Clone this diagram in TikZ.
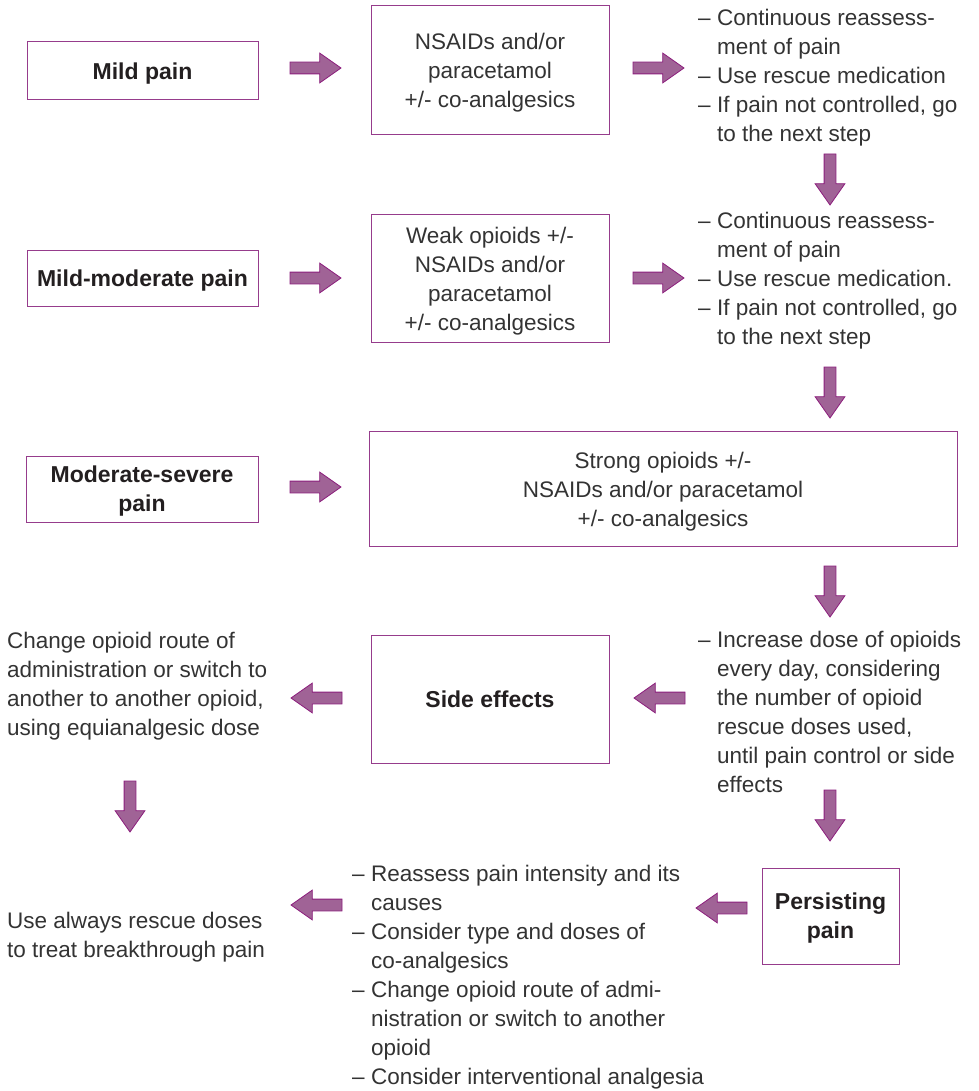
\documentclass[tikz,border=0pt]{standalone}
\usepackage{fontspec}
\setmainfont{Liberation Sans}
\usepackage{tikz}
\usetikzlibrary{shapes.arrows}
\definecolor{arrowfill}{RGB}{160,99,150}
\definecolor{arrowline}{RGB}{140,30,125}
\definecolor{boxline}{RGB}{150,60,140}
\definecolor{textgray}{RGB}{51,51,51}
\definecolor{boldgray}{RGB}{35,31,32}
\newcommand{\dashitem}{\makebox[19pt][l]{–}}
\newcommand{\indentline}{\hspace*{19pt}}

\begin{document}
\begin{tikzpicture}[x=1pt, y=-1pt,
    every node/.style={font=\fontsize{22.5}{29}\selectfont, text=textgray, inner sep=0pt},
    box/.style={draw=boxline, line width=1pt, align=center, text depth=0pt},
    boldbox/.style={box, text=boldgray, font=\fontsize{23}{29}\selectfont\bfseries},
    note/.style={align=left, anchor=north west},
    fatarrow/.style={single arrow, draw=arrowline, fill=arrowfill, line width=0.8pt,
      inner xsep=0pt, inner ysep=5.5pt, minimum height=51pt, minimum width=29pt,
      single arrow head extend=9pt, single arrow tip angle=70, outer sep=0pt, anchor=tail}]
    \useasboundingbox (0,0) rectangle (978,1091);
    % Pain levels (left column)
    \node[boldbox, minimum width=231pt, minimum height=58pt] (mild) at (142.5,71) {Mild pain};
    \node[boldbox, minimum width=231pt, minimum height=56pt] (mildmod) at (142.5,278) {Mild-moderate pain};
    \node[boldbox, minimum width=232pt, minimum height=66pt] (modsev) at (142,489) {Moderate-severe\\pain};
    % Treatment steps
    \node[box, minimum width=238pt, minimum height=129pt] (step1) at (490,70.5)
      {NSAIDs and/or\\paracetamol\\+/- co-analgesics};
    \node[box, minimum width=238pt, minimum height=127pt] (step2) at (490,278.5)
      {Weak opioids +/-\\NSAIDs and/or\\paracetamol\\+/- co-analgesics};
    \node[box, minimum width=588pt, minimum height=115pt] (step3) at (663,489)
      {Strong opioids +/-\\NSAIDs and/or paracetamol\\+/- co-analgesics};
    \node[boldbox, minimum width=238pt, minimum height=128pt] (side) at (490,699) {Side effects};
    \node[boldbox, minimum width=137pt, minimum height=96pt] (persist) at (830.5,916) {Persisting\\pain};
    % Notes
    \node[note] (note1) at (698,8.5) {\dashitem Continuous reassess-\\\indentline ment of pain\\
      \dashitem Use rescue medication\\\dashitem If pain not controlled, go\\\indentline to the next step};
    \node[note] (note2) at (698,211.5) {\dashitem Continuous reassess-\\\indentline ment of pain\\
      \dashitem Use rescue medication.\\\dashitem If pain not controlled, go\\\indentline to the next step};
    \node[note] (note3) at (698,630.5) {\dashitem Increase dose of opioids\\\indentline every day, considering\\
      \indentline the number of opioid\\\indentline rescue doses used,\\
      \indentline until pain control or side\\\indentline effects};
    \node[note] (switch) at (7,631.5) {Change opioid route of\\administration or switch to\\
      another to another opioid,\\using equianalgesic dose};
    \node[note] (note4) at (352,864.5) {\dashitem Reassess pain intensity and its\\\indentline causes\\
      \dashitem Consider type and doses of\\\indentline co-analgesics\\
      \dashitem Change opioid route of admi-\\\indentline nistration or switch to another\\
      \indentline opioid\\\dashitem Consider interventional analgesia};
    \node[note] (rescue) at (7,911.5) {Use always rescue doses\\to treat breakthrough pain};
    % Block arrows (placed by their tails)
    \foreach \x/\y/\r [count=\i] in {290/68/0, 633/68/0, 830/154/-90, 290/278/0, 633/278/0,
      830/367/-90, 290/487/0, 830/566/-90, 685/698/180, 342/698/180,
      130/781/-90, 830/790/-90, 747/908/180, 342/905/180} {
      \node[fatarrow, rotate=\r] (arr\i) at (\x,\y) {};
    }
\end{tikzpicture}
\end{document}
